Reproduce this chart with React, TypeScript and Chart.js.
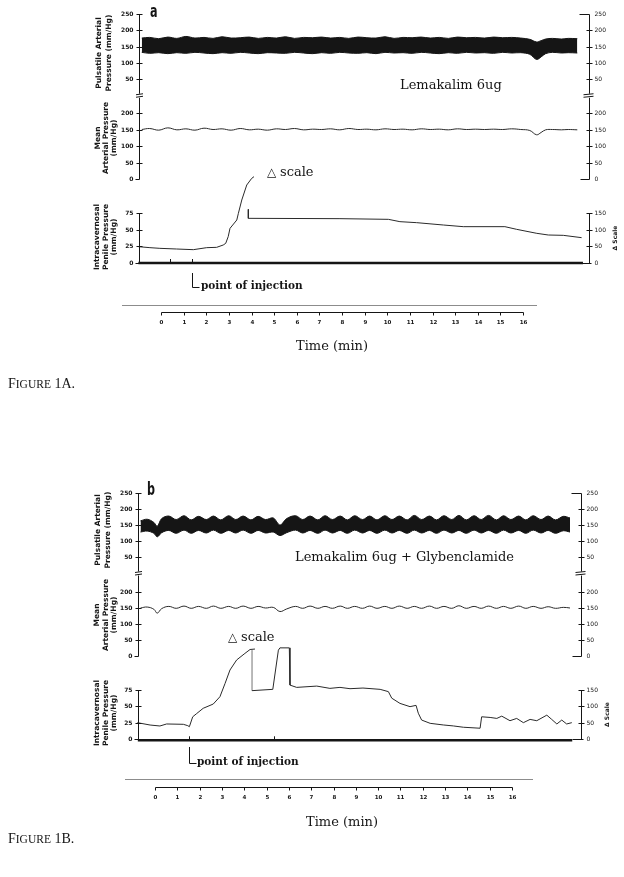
import React, { useEffect, useRef } from "react";
import { Chart, registerables } from "chart.js";

Chart.register(...registerables);

const PAGE_W = 624;
const PAGE_H = 877;

// ---------------- shared axis ticks & texts ----------------
const timeTicks = [0, 1, 2, 3, 4, 5, 6, 7, 8, 9, 10, 11, 12, 13, 14, 15, 16];
const pulsTicks = [50, 100, 150, 200, 250];
const meanTicks = [0, 50, 100, 150, 200];
const icpTicks = [0, 25, 50, 75];
const deltaTicks = [0, 50, 100, 150];

const pulsTitle = ["Pulsatile Arterial", "Pressure (mm/Hg)"];
const meanTitle = ["Mean", "Arterial Pressure", "(mm/Hg)"];
const icpTitle = ["Intracavernosal", "Penile Pressure", "(mm/Hg)"];
const deltaAxisTitle = "\u0394 Scale";
const timeTitle = "Time (min)";
const injectionLabel = "point of injection";
const deltaNoteSymbol = "\u25B3";
const deltaNoteWord = "scale";

// ---------------- Figure 1A data ----------------
const drugLabelA = "Lemakalim 6ug";
const captionA = ["F", "IGURE", " 1A."];
const panelLetterA = "a";
const arterialTimeA = [-0.85, -0.5, -0.1, 0.3, 0.7, 1.1, 1.5, 1.9, 2.3, 2.7, 3.1, 3.5, 3.9, 4.3, 4.7, 5.1, 5.5, 5.9, 6.3, 6.7, 7.1, 7.5, 7.9, 8.3, 8.7, 9.1, 9.5, 9.9, 10.3, 10.7, 11.1, 11.5, 11.9, 12.3, 12.7, 13.1, 13.5, 13.9, 14.3, 14.7, 15.1, 15.5, 15.9, 16.3, 16.6, 16.8, 17.0, 17.3, 17.7, 18.0, 18.4];
const pulsHighA = [176, 178, 174, 179, 175, 181, 176, 178, 175, 180, 176, 177, 179, 175, 178, 176, 180, 175, 178, 177, 179, 176, 178, 175, 179, 177, 176, 180, 175, 178, 177, 179, 176, 178, 175, 179, 177, 178, 176, 179, 177, 178, 176, 172, 164, 168, 173, 175, 173, 175, 174];
const pulsLowA = [132, 129, 131, 128, 131, 129, 132, 130, 128, 131, 129, 132, 130, 128, 131, 130, 129, 132, 130, 128, 131, 129, 132, 130, 129, 131, 128, 132, 130, 131, 129, 132, 130, 128, 131, 129, 132, 130, 131, 129, 132, 130, 131, 126, 110, 118, 128, 132, 130, 131, 130];
const meanA = [150, 153, 148, 155, 149, 152, 148, 154, 150, 152, 148, 153, 149, 151, 148, 152, 150, 153, 149, 151, 150, 152, 149, 153, 150, 151, 149, 152, 150, 151, 149, 152, 150, 151, 149, 152, 150, 151, 150, 151, 150, 152, 150, 147, 134, 141, 149, 150, 149, 150, 149];
const icpTimeA = [-1.0, -0.49, -0.05, 0.69, 1.43, 2.02, 2.46, 2.75, 2.86, 2.97, 3.05, 3.17, 3.35, 3.42, 3.57, 3.79, 4.01, 4.11];
const icpA = [24.5, 23, 22, 21, 20, 23, 23.5, 27, 29.5, 39.5, 52, 57, 64.5, 74.5, 94.5, 117, 127, 129.5];
const deltaTimeA = [3.86, 3.86, 7.91, 10.05, 10.56, 11.3, 12.48, 13.36, 15.2, 15.72, 16.61, 17.12, 17.78, 18.59];
const deltaA = [161, 134, 133, 131, 124, 121, 114, 109, 109, 101, 89, 84, 83, 76];
const baselineTimeA = [-1.0, 18.65];
const baselineA = [0, 0];
const eventMarksA = [0.4, 1.37];
const injectionTimeA = 1.37;

// ---------------- Figure 1B data ----------------
const drugLabelB = "Lemakalim 6ug + Glybenclamide";
const captionB = ["F", "IGURE", " 1B."];
const panelLetterB = "b";
const arterialTimeB = [-0.65, -0.35, -0.05, 0.1, 0.3, 0.62, 0.95, 1.3, 1.62, 1.95, 2.3, 2.62, 2.95, 3.3, 3.62, 3.95, 4.3, 4.62, 4.95, 5.3, 5.6, 5.9, 6.3, 6.62, 6.95, 7.3, 7.62, 7.95, 8.3, 8.62, 8.95, 9.3, 9.62, 9.95, 10.3, 10.62, 10.95, 11.3, 11.62, 11.95, 12.3, 12.62, 12.95, 13.3, 13.62, 13.95, 14.3, 14.62, 14.95, 15.3, 15.62, 15.95, 16.3, 16.62, 16.95, 17.3, 17.62, 17.95, 18.3, 18.6];
const pulsHighB = [163, 168, 158, 146, 170, 178, 167, 179, 166, 177, 167, 178, 166, 179, 167, 178, 166, 177, 167, 172, 150, 170, 179, 167, 178, 166, 179, 167, 178, 166, 179, 167, 178, 166, 179, 167, 178, 166, 180, 167, 178, 166, 179, 167, 180, 166, 179, 167, 180, 166, 179, 167, 178, 166, 179, 167, 178, 166, 177, 172];
const pulsLowB = [128, 131, 124, 113, 126, 133, 124, 134, 124, 133, 125, 134, 124, 133, 125, 134, 124, 133, 125, 128, 117, 126, 134, 125, 133, 124, 134, 125, 133, 124, 134, 125, 133, 124, 134, 125, 133, 124, 134, 125, 133, 124, 134, 125, 133, 124, 134, 125, 133, 124, 134, 125, 133, 124, 134, 125, 133, 124, 132, 128];
const meanB = [150, 153, 146, 134, 148, 155, 149, 156, 149, 155, 149, 156, 149, 155, 149, 156, 149, 155, 150, 152, 139, 147, 155, 149, 156, 149, 155, 149, 156, 149, 155, 149, 156, 149, 155, 149, 156, 149, 155, 149, 156, 149, 155, 149, 157, 149, 155, 149, 156, 149, 155, 149, 156, 149, 155, 149, 154, 149, 152, 150];
const icpTimeB = [-0.79, -0.22, 0.22, 0.52, 1.27, 1.47, 1.54, 1.69, 1.87, 2.16, 2.61, 2.91, 3.14, 3.36, 3.66, 4.03, 4.26, 4.48];
const icpB = [25, 21.4, 19.9, 23, 22.5, 20.4, 18.8, 34, 39, 47, 53.5, 64.7, 85, 105.6, 121, 131, 137, 137.7];
const deltaTimeB = [4.35, 4.35, 5.28, 5.53, 5.6, 6.02, 6.05, 6.35, 7.25, 7.84, 8.29, 8.74, 9.32, 10.09, 10.46, 10.61, 10.98, 11.43, 11.7, 11.8, 11.95, 12.33, 12.92, 13.37, 13.82, 14.57, 14.64, 15.02, 15.32, 15.54, 15.91, 16.21, 16.51, 16.81, 17.11, 17.56, 17.78, 18.01, 18.23, 18.45, 18.68];
const deltaB = [272, 148, 152, 272, 279, 279, 165, 158, 162, 155, 158, 154, 156, 152, 145, 125, 109, 99, 103, 79, 58, 48, 43, 40, 36, 33, 68, 66, 63, 70, 56, 63, 50, 60, 56, 73, 60, 46, 58, 46, 50];
const baselineTimeB = [-0.77, 18.7];
const baselineB = [-2, -2];
const eventMarksB = [1.52, 5.33];
const injectionTimeB = 1.52;

// ---------------- layout (page pixels) ----------------
type Cal = [number, number, number, number];
interface Layout {
  xCal: Cal; pulsCal: Cal; meanCal: Cal; icpCal: Cal; deltaCal: Cal;
  leftX: number; rightX: number;
  timeAxisY: number; sepY: number; sepX0: number; sepX1: number;
  timeTitleX: number; timeTitleY: number;
  letterX: number; letterY: number;
  drugX: number; drugY: number;
  noteX: number; noteY: number;
  injTop: number; injBottom: number; injTextX: number; injTextY: number;
  captionX: number; captionY: number;
  pulsTitleX: number[]; pulsTitleY: number;
  meanTitleX: number[]; meanTitleY: number;
  icpTitleX: number[]; icpTitleY: number;
  deltaTitleX: number;
  fadedFirstDelta: boolean;
}

const LAYOUT_A: Layout = {
  xCal: [0, 161, 16, 523], pulsCal: [250, 14, 50, 79], meanCal: [200, 113, 0, 179],
  icpCal: [75, 213, 0, 263], deltaCal: [150, 213, 0, 263],
  leftX: 139, rightX: 589,
  timeAxisY: 312, sepY: 305, sepX0: 122, sepX1: 537,
  timeTitleX: 332, timeTitleY: 347,
  letterX: 150, letterY: 17,
  drugX: 400, drugY: 89,
  noteX: 267, noteY: 176,
  injTop: 273, injBottom: 287, injTextX: 201, injTextY: 289,
  captionX: 8, captionY: 388,
  pulsTitleX: [99, 109], pulsTitleY: 53,
  meanTitleX: [98, 106, 114], meanTitleY: 138,
  icpTitleX: [97, 106, 114], icpTitleY: 237,
  deltaTitleX: 615,
  fadedFirstDelta: false,
};

const LAYOUT_B: Layout = {
  xCal: [0, 155, 16, 512], pulsCal: [250, 493, 50, 557], meanCal: [200, 592, 0, 656],
  icpCal: [75, 690, 0, 739], deltaCal: [150, 690, 0, 739],
  leftX: 138, rightX: 581,
  timeAxisY: 787, sepY: 779, sepX0: 125, sepX1: 533,
  timeTitleX: 342, timeTitleY: 823,
  letterX: 147, letterY: 495,
  drugX: 295, drugY: 561,
  noteX: 228, noteY: 641,
  injTop: 747, injBottom: 763, injTextX: 197, injTextY: 765,
  captionX: 8, captionY: 843,
  pulsTitleX: [98, 108], pulsTitleY: 530,
  meanTitleX: [97, 106, 114], meanTitleY: 615,
  icpTitleX: [97, 106, 114], icpTitleY: 713,
  deltaTitleX: 607,
  fadedFirstDelta: true,
};

const FIGS = [
  { key: "A", letter: panelLetterA, drug: drugLabelA, caption: captionA, time: arterialTimeA, hi: pulsHighA, lo: pulsLowA, mean: meanA, icpT: icpTimeA, icp: icpA, dT: deltaTimeA, d: deltaA, baseT: baselineTimeA, base: baselineA, marks: eventMarksA, inj: injectionTimeA, L: LAYOUT_A },
  { key: "B", letter: panelLetterB, drug: drugLabelB, caption: captionB, time: arterialTimeB, hi: pulsHighB, lo: pulsLowB, mean: meanB, icpT: icpTimeB, icp: icpB, dT: deltaTimeB, d: deltaB, baseT: baselineTimeB, base: baselineB, marks: eventMarksB, inj: injectionTimeB, L: LAYOUT_B },
];

// ---------------- styles ----------------
const INK = "#151515";
const TRACE = "#2a2a2a";
const FAINT = "#b0b0b0";
const SEP = "#8c8c8c";
const F_TICK_L = 'bold 6px "DejaVu Sans"';
const F_TICK_R = '6px "DejaVu Sans"';
const F_TIME_TICK = 'bold 5.5px "DejaVu Sans"';
const F_AXIS_TITLE = 'bold 7.5px "DejaVu Sans"';
const F_DELTA_TITLE = 'bold 6px "DejaVu Sans"';
const F_NOTE = '13px "DejaVu Serif"';
const F_TRI = '12px "DejaVu Sans"';
const F_INJ = 'bold 10.5px "DejaVu Serif"';
const F_TIME_TITLE = '13px "DejaVu Serif"';
const F_LETTER = 'bold 18px "DejaVu Sans"';
const F_CAP_BIG = '14px "Liberation Serif"';
const F_CAP_SMALL = '11.5px "Liberation Serif"';

// ---------------- helpers ----------------
function calY(c: Cal) {
  const [v1, p1, v2, p2] = c;
  const u = (v1 - v2) / (p2 - p1);
  return { min: v1 - (PAGE_H - p1) * u, max: v1 + p1 * u };
}
function calX(c: Cal) {
  const [v1, p1, v2, p2] = c;
  const u = (v2 - v1) / (p2 - p1);
  return { min: v1 - p1 * u, max: v1 + (PAGE_W - p1) * u };
}
const pts = (t: number[], v: number[]) => t.map((x, i) => ({ x, y: v[i] }));

function drawFigure(chart: any, f: any) {
  const ctx: CanvasRenderingContext2D = chart.ctx;
  const k = f.key;
  const L: Layout = f.L;
  const s = chart.scales;
  const X = s["x" + k], YP = s["yP" + k], YM = s["yM" + k], YI = s["yI" + k], YD = s["yD" + k];
  const px = (sc: any, v: number) => Math.round(sc.getPixelForValue(v)) + 0.5;

  const seg = (x1: number, y1: number, x2: number, y2: number, w = 1, col = INK) => {
    ctx.beginPath();
    ctx.lineWidth = w;
    ctx.strokeStyle = col;
    ctx.moveTo(x1, y1);
    ctx.lineTo(x2, y2);
    ctx.stroke();
  };
  const text = (str: string, x: number, y: number, font: string, align: CanvasTextAlign = "left", base: CanvasTextBaseline = "alphabetic") => {
    ctx.font = font;
    ctx.textAlign = align;
    ctx.textBaseline = base;
    ctx.fillStyle = INK;
    ctx.fillText(str, x, y);
  };
  const vtext = (str: string, x: number, y: number, font: string) => {
    ctx.save();
    ctx.translate(x, y);
    ctx.rotate(-Math.PI / 2);
    ctx.font = font;
    ctx.textAlign = "center";
    ctx.textBaseline = "middle";
    ctx.fillStyle = INK;
    ctx.fillText(str, 0, 0);
    ctx.restore();
  };

  ctx.save();

  // ----- left axes -----
  const lx = L.leftX + 0.5;
  const p0 = YP.getPixelForValue(0);
  seg(lx, px(YP, pulsTicks[pulsTicks.length - 1]), lx, p0 - 1.5);
  seg(lx - 3.5, p0 - 0.5, lx + 3.5, p0 - 1.5);
  seg(lx - 3.5, p0 + 2, lx + 3.5, p0 + 1);
  seg(lx, p0 + 2.5, lx, px(YM, 0));
  for (const v of pulsTicks) {
    const y = px(YP, v);
    seg(lx - 3, y, lx + 3, y);
    text(String(v), lx - 6, y, F_TICK_L, "right", "middle");
  }
  for (const v of meanTicks) {
    const y = px(YM, v);
    if (v === 0) seg(lx - 4, y, lx, y); else seg(lx - 3, y, lx + 3, y);
    text(String(v), lx - 6, y, F_TICK_L, "right", "middle");
  }
  seg(lx, px(YI, icpTicks[icpTicks.length - 1]), lx, px(YI, 0));
  for (const v of icpTicks) {
    const y = px(YI, v);
    if (v === 0) seg(lx - 4, y, lx, y); else seg(lx - 3, y, lx + 3, y);
    text(String(v), lx - 6, y, F_TICK_L, "right", "middle");
  }

  // ----- right axes -----
  const rx = L.rightX + 0.5;
  seg(rx, px(YP, pulsTicks[pulsTicks.length - 1]), rx, p0 - 1.5);
  seg(rx - 6, p0 - 0.5, rx + 4, p0 - 1.5);
  seg(rx - 6, p0 + 2, rx + 4, p0 + 1);
  seg(rx, p0 + 2.5, rx, px(YM, 0));
  for (const v of pulsTicks) {
    const y = px(YP, v);
    if (v === 250) seg(rx - 10, y, rx, y); else seg(rx - 3, y, rx + 3, y);
    text(String(v), rx + 5, y, F_TICK_R, "left", "middle");
  }
  for (const v of meanTicks) {
    const y = px(YM, v);
    if (v === 0) seg(rx - 9, y, rx, y); else seg(rx - 3, y, rx + 3, y);
    text(String(v), rx + 5, y, F_TICK_R, "left", "middle");
  }
  seg(rx, px(YD, deltaTicks[deltaTicks.length - 1]), rx, px(YD, 0));
  for (const v of deltaTicks) {
    const y = px(YD, v);
    if (v === 0) seg(rx - 9, y, rx + 2, y); else seg(rx - 3, y, rx + 3, y);
    text(String(v), rx + 5, y, F_TICK_R, "left", "middle");
  }
  vtext(deltaAxisTitle, L.deltaTitleX, (YD.getPixelForValue(150) + YD.getPixelForValue(0)) / 2, F_DELTA_TITLE);

  // ----- axis titles -----
  pulsTitle.forEach((t, i) => vtext(t, L.pulsTitleX[i], L.pulsTitleY, F_AXIS_TITLE));
  meanTitle.forEach((t, i) => vtext(t, L.meanTitleX[i], L.meanTitleY, F_AXIS_TITLE));
  icpTitle.forEach((t, i) => vtext(t, L.icpTitleX[i], L.icpTitleY, F_AXIS_TITLE));

  // ----- baseline event marks -----
  const yb = YI.getPixelForValue(f.base[0]);
  for (const t of f.marks) {
    const x = px(X, t);
    seg(x, yb - 4, x, yb);
  }

  // ----- point of injection -----
  const xi = px(X, f.inj);
  seg(xi, L.injTop, xi, L.injBottom + 0.5);
  seg(xi, L.injBottom + 0.5, xi + 7, L.injBottom + 0.5);
  text(injectionLabel, L.injTextX, L.injTextY, F_INJ);

  // ----- time axis -----
  seg(L.sepX0, L.sepY + 0.5, L.sepX1, L.sepY + 0.5, 1, SEP);
  const ty = L.timeAxisY + 0.5;
  seg(px(X, timeTicks[0]), ty, px(X, timeTicks[timeTicks.length - 1]), ty);
  for (const t of timeTicks) {
    const x = px(X, t);
    seg(x, ty, x, ty + 3);
    text(String(t), x, ty + 10.5, F_TIME_TICK, "center", "middle");
  }
  text(timeTitle, L.timeTitleX, L.timeTitleY, F_TIME_TITLE, "center", "middle");

  // ----- annotations -----
  ctx.save();
  ctx.translate(L.letterX, L.letterY);
  ctx.scale(0.62, 1);
  text(f.letter, 0, 0, F_LETTER);
  ctx.restore();
  text(f.drug, L.drugX, L.drugY, F_NOTE);
  text(deltaNoteSymbol, L.noteX, L.noteY, F_TRI);
  text(deltaNoteWord, L.noteX + 13, L.noteY, F_NOTE);

  // ----- caption (small caps) -----
  let cx = L.captionX;
  text(f.caption[0], cx, L.captionY, F_CAP_BIG);
  ctx.font = F_CAP_BIG;
  cx += ctx.measureText(f.caption[0]).width;
  text(f.caption[1], cx, L.captionY, F_CAP_SMALL);
  ctx.font = F_CAP_SMALL;
  cx += ctx.measureText(f.caption[1]).width;
  text(f.caption[2], cx, L.captionY, F_CAP_BIG);

  ctx.restore();
}

const decorPlugin = {
  id: "decor",
  afterDatasetsDraw(chart: any) {
    for (const f of FIGS) drawFigure(chart, f);
  },
};

function buildConfig(): any {
  const datasets: any[] = [];
  const scales: any = {};
  for (const f of FIGS) {
    const k = f.key;
    const L = f.L;
    const base = { type: "linear", display: false, bounds: "data" };
    scales["x" + k] = { ...base, axis: "x", position: "bottom", ...calX(L.xCal) };
    scales["yP" + k] = { ...base, axis: "y", position: "left", ...calY(L.pulsCal) };
    scales["yM" + k] = { ...base, axis: "y", position: "left", ...calY(L.meanCal) };
    scales["yI" + k] = { ...base, axis: "y", position: "left", ...calY(L.icpCal) };
    scales["yD" + k] = { ...base, axis: "y", position: "right", ...calY(L.deltaCal) };
    const common = { xAxisID: "x" + k, pointRadius: 0, pointHoverRadius: 0, fill: false, borderJoinStyle: "round" };
    const faded = L.fadedFirstDelta;
    datasets.push({ ...common, label: "diastolic " + k, yAxisID: "yP" + k, data: pts(f.time, f.lo), borderColor: INK, borderWidth: 1, tension: 0.35 });
    datasets.push({ ...common, label: "systolic " + k, yAxisID: "yP" + k, data: pts(f.time, f.hi), borderColor: INK, borderWidth: 1, tension: 0.35, fill: "-1", backgroundColor: INK });
    datasets.push({ ...common, label: "mean " + k, yAxisID: "yM" + k, data: pts(f.time, f.mean), borderColor: TRACE, borderWidth: 1, tension: 0.4 });
    datasets.push({ ...common, label: "icp " + k, yAxisID: "yI" + k, data: pts(f.icpT, f.icp), borderColor: TRACE, borderWidth: 1, tension: 0 });
    datasets.push({
      ...common, label: "delta " + k, yAxisID: "yD" + k, data: pts(f.dT, f.d), borderColor: TRACE, borderWidth: 1, tension: 0,
      segment: { borderColor: (c: any) => (faded && c.p0DataIndex === 0 ? FAINT : undefined) },
    });
    datasets.push({ ...common, label: "baseline " + k, yAxisID: "yI" + k, data: pts(f.baseT, f.base), borderColor: INK, borderWidth: 2.5, tension: 0 });
  }
  return {
    type: "line",
    data: { datasets },
    options: {
      animation: false,
      responsive: false,
      maintainAspectRatio: false,
      events: [],
      layout: { padding: 0 },
      plugins: { legend: { display: false }, tooltip: { enabled: false }, title: { display: false } },
      scales,
    },
    plugins: [decorPlugin],
  };
}

export default function App() {
  const ref = useRef<HTMLCanvasElement>(null);
  useEffect(() => {
    const canvas = ref.current;
    if (!canvas) return;
    const chart = new Chart(canvas, buildConfig());
    return () => chart.destroy();
  }, []);
  return (
    <canvas
      ref={ref}
      width={PAGE_W}
      height={PAGE_H}
      style={{ position: "absolute", left: 0, top: 0, width: PAGE_W, height: PAGE_H }}
    />
  );
}
